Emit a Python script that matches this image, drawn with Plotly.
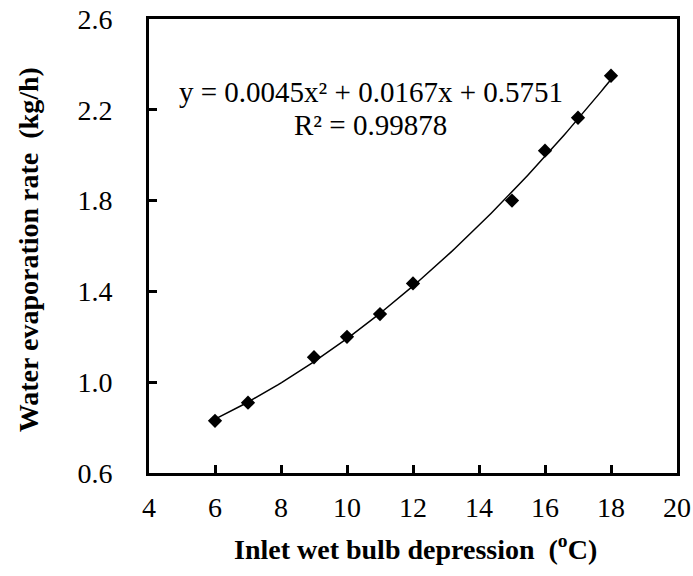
import numpy as np
import plotly.graph_objects as go

depression = [6, 7, 9, 10, 11, 12, 15, 16, 17, 18]
evap_rate = [0.83, 0.91, 1.11, 1.20, 1.30, 1.435, 1.80, 2.02, 2.165, 2.35]
fit_coef = [0.0045, 0.0167, 0.5751]
fit_label = "y = 0.0045x² + 0.0167x + 0.5751"
r2_label = "R² = 0.99878"
x_ticks = [4, 6, 8, 10, 12, 14, 16, 18, 20]
y_ticks = [0.6, 1.0, 1.4, 1.8, 2.2, 2.6]

xs = np.linspace(min(depression), max(depression), 120)
ys = np.polyval(fit_coef, xs)

fig = go.Figure()
fig.add_trace(go.Scatter(x=xs, y=ys, mode="lines",
                         line=dict(color="black", width=1.5), hoverinfo="skip"))
fig.add_trace(go.Scatter(x=depression, y=evap_rate, mode="markers",
                         marker=dict(symbol="diamond", size=11, color="black")))

# trendline equation
fig.add_annotation(x=0.42, y=0.839, xref="paper", yref="paper", text=fit_label,
                   xanchor="center", yanchor="middle", showarrow=False, font=dict(size=29))
fig.add_annotation(x=0.42, y=0.767, xref="paper", yref="paper", text=r2_label,
                   xanchor="center", yanchor="middle", showarrow=False, font=dict(size=29))

# axis titles
fig.add_annotation(x=-0.229, y=0.491, xref="paper", yref="paper", textangle=-90,
                   text="<b>Water evaporation rate\u00a0\u00a0(kg/h)</b>",
                   xanchor="center", yanchor="middle", showarrow=False, font=dict(size=28))
fig.add_annotation(x=0.504, y=-0.165, xref="paper", yref="paper",
                   text="<b>Inlet wet bulb depression\u00a0\u00a0(<sup>o</sup>C)</b>",
                   xanchor="center", yanchor="middle", showarrow=False, font=dict(size=28))

axis_style = dict(showline=True, linecolor="black", linewidth=3, mirror=True,
                  ticks="inside", ticklen=8, tickwidth=2.5, tickcolor="black",
                  showgrid=False, zeroline=False, tickfont=dict(size=28), automargin=False)

fig.update_xaxes(range=[4, 20], tickvals=x_ticks, ticklabelstandoff=7, **axis_style)
fig.update_yaxes(range=[0.6, 2.6], tickvals=y_ticks, ticktext=[f"{v:.1f}" for v in y_ticks],
                 ticklabelstandoff=28, **axis_style)

fig.update_layout(width=693, height=576, showlegend=False,
                  margin=dict(l=149, r=16, t=19, b=103),
                  plot_bgcolor="white", paper_bgcolor="white",
                  font=dict(family="Liberation Serif", color="black"))

fig.write_html("out.html", config={"displayModeBar": False},
               post_script="document.body.style.margin='0px';")
